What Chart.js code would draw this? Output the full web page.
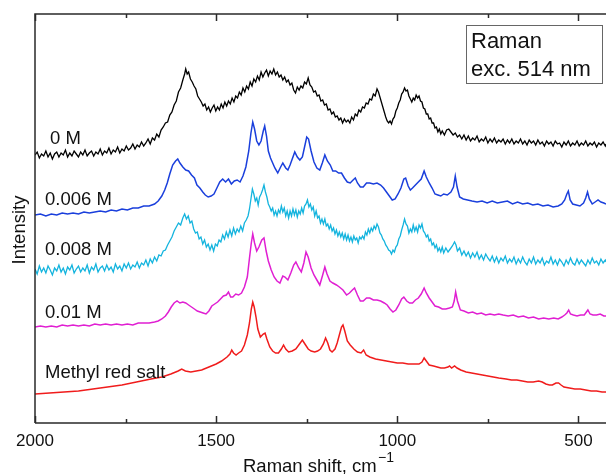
<!DOCTYPE html>
<html><head><meta charset="utf-8">
<script src="https://cdn.jsdelivr.net/npm/chart.js@4.4.1/dist/chart.umd.min.js"></script>
<style>html,body{margin:0;padding:0;background:#fff;overflow:hidden}canvas{display:block}</style>
</head><body>
<canvas id="c" width="606" height="474"></canvas>
<script>
// Raman shift (cm-1) tick values
const majorTicks = [2000, 1500, 1000, 500];
const minorTicks = [1750, 1250, 750];
const seriesNames = ['0 M', '0.006 M', '0.008 M', '0.01 M', 'Methyl red salt'];

// [Raman shift, intensity (a.u., offset-stacked)]
const spec0M = [[2000,268],[1994,271],[1988,265],[1982,269],[1976,267],[1970,272],[1964,266],[1958,270],[1952,264],[1946,269],[1940,271],[1934,266],[1928,270],[1922,268],[1916,273],[1910,266],[1904,270],[1898,267],[1892,272],[1886,269],[1880,266],[1874,271],[1868,268],[1862,273],[1856,267],[1850,270],[1844,272],[1838,267],[1832,271],[1826,269],[1820,274],[1814,268],[1808,272],[1802,270],[1796,275],[1790,269],[1784,273],[1778,271],[1772,276],[1766,270],[1760,274],[1754,272],[1748,277],[1742,273],[1736,275],[1730,279],[1724,274],[1718,278],[1712,276],[1706,281],[1700,277],[1694,280],[1688,284],[1682,279],[1676,285],[1670,283],[1664,289],[1658,286],[1652,293],[1646,296],[1640,300],[1634,301],[1628,308],[1622,311],[1616,318],[1610,322],[1604,331],[1598,335],[1592,343],[1587,349],[1584,354],[1580,349],[1576,351],[1571,344],[1566,341],[1561,337],[1556,334],[1551,327],[1546,324],[1541,321],[1536,317],[1531,319],[1526,313],[1521,316],[1516,311],[1511,315],[1506,318],[1501,312],[1496,316],[1491,313],[1486,319],[1481,315],[1476,321],[1471,317],[1466,322],[1461,319],[1456,325],[1451,321],[1446,327],[1441,325],[1436,331],[1431,328],[1426,335],[1421,331],[1416,337],[1411,334],[1406,341],[1401,337],[1396,344],[1391,341],[1386,347],[1381,343],[1376,351],[1371,346],[1366,350],[1361,353],[1356,347],[1351,352],[1346,349],[1341,354],[1336,348],[1331,351],[1326,346],[1321,348],[1316,343],[1311,346],[1306,341],[1301,343],[1296,338],[1291,340],[1286,333],[1281,330],[1276,336],[1271,333],[1266,337],[1261,335],[1256,341],[1251,339],[1246,345],[1241,338],[1236,336],[1231,331],[1226,332],[1221,327],[1216,328],[1211,322],[1206,323],[1201,318],[1196,319],[1191,313],[1186,314],[1181,309],[1176,311],[1171,306],[1166,307],[1161,303],[1156,305],[1151,300],[1146,304],[1141,301],[1136,303],[1131,300],[1126,306],[1121,303],[1116,309],[1111,307],[1106,313],[1101,311],[1096,316],[1091,315],[1086,320],[1081,319],[1076,324],[1071,323],[1066,329],[1061,327],[1056,334],[1052,331],[1048,326],[1044,321],[1040,316],[1036,311],[1032,306],[1028,302],[1024,300],[1020,302],[1016,299],[1012,304],[1008,306],[1004,312],[1000,315],[996,320],[992,323],[988,329],[984,331],[980,335],[976,332],[972,333],[968,327],[964,324],[960,321],[956,325],[952,323],[948,328],[944,325],[940,327],[936,322],[932,321],[928,315],[924,314],[920,309],[916,309],[912,304],[908,305],[904,300],[900,300],[896,295],[892,296],[888,291],[884,294],[880,289],[876,292],[870,288],[864,293],[858,294],[852,291],[846,288],[840,290],[834,286],[828,288],[822,284],[816,288],[810,283],[804,287],[798,282],[792,285],[786,283],[780,287],[774,281],[768,284],[762,282],[756,286],[750,280],[744,284],[738,281],[732,285],[726,280],[720,283],[714,281],[708,284],[702,279],[696,283],[690,280],[684,284],[678,279],[672,282],[666,280],[660,284],[654,279],[648,282],[642,278],[636,283],[630,280],[624,282],[618,278],[612,283],[606,279],[600,281],[594,277],[588,282],[582,279],[576,281],[570,277],[564,282],[558,279],[552,280],[546,276],[540,281],[534,278],[528,282],[522,277],[516,280],[510,278],[504,282],[498,277],[492,280],[486,278],[480,282],[474,277],[468,280],[462,278],[456,281],[450,276],[444,280],[438,278],[432,281],[426,277],[424,279]];

const spec006M = [[2000,208],[1985,209],[1970,207],[1955,209],[1940,208],[1925,210],[1910,209],[1895,210],[1880,209],[1865,211],[1850,210],[1835,211],[1820,212],[1805,211],[1790,213],[1775,212],[1760,214],[1745,213],[1730,215],[1715,215],[1700,217],[1685,217],[1670,219],[1660,222],[1650,227],[1642,233],[1635,240],[1628,249],[1620,258],[1612,262],[1606,264],[1600,260],[1592,256],[1584,253],[1576,252],[1568,248],[1560,245],[1553,238],[1545,235],[1537,231],[1530,228],[1522,226],[1514,227],[1506,229],[1498,235],[1490,241],[1482,244],[1474,241],[1466,244],[1458,239],[1450,242],[1442,243],[1434,241],[1426,247],[1418,256],[1410,272],[1404,290],[1399,301],[1394,294],[1388,282],[1382,278],[1376,282],[1370,292],[1366,297],[1361,287],[1356,272],[1350,265],[1344,260],[1338,255],[1330,250],[1322,256],[1316,260],[1308,255],[1302,253],[1296,258],[1290,264],[1283,271],[1276,266],[1269,263],[1262,266],[1256,276],[1250,286],[1245,284],[1238,272],[1230,261],[1222,255],[1214,253],[1207,260],[1200,268],[1193,262],[1185,258],[1178,252],[1170,252],[1162,250],[1154,250],[1146,245],[1138,241],[1130,240],[1122,243],[1116,245],[1110,240],[1102,236],[1094,236],[1085,240],[1076,240],[1066,239],[1056,240],[1046,238],[1038,235],[1030,231],[1022,227],[1014,223],[1006,224],[998,229],[990,235],[982,244],[977,245],[970,237],[964,233],[958,235],[950,238],[942,241],[934,244],[926,252],[920,246],[912,240],[904,235],[896,229],[888,228],[880,227],[872,229],[862,228],[852,231],[845,236],[840,247],[835,236],[828,226],[818,224],[806,223],[794,222],[780,221],[766,222],[752,220],[738,222],[724,220],[710,221],[696,222],[682,219],[668,221],[654,219],[640,220],[626,218],[612,219],[598,217],[584,218],[570,216],[556,217],[546,219],[538,223],[532,229],[528,232],[523,223],[516,219],[506,218],[496,217],[486,220],[480,225],[475,231],[470,224],[462,219],[454,221],[446,223],[438,221],[430,220],[424,219]];

const spec008M = [[2000,154],[1994,149],[1988,157],[1982,151],[1976,155],[1970,150],[1964,157],[1958,153],[1952,148],[1946,155],[1940,152],[1934,158],[1928,151],[1922,155],[1916,149],[1910,156],[1904,153],[1898,158],[1892,150],[1886,154],[1880,157],[1874,151],[1868,155],[1862,152],[1856,158],[1850,150],[1844,156],[1838,153],[1832,159],[1826,151],[1820,155],[1814,157],[1808,152],[1802,158],[1796,153],[1790,156],[1784,151],[1778,159],[1772,154],[1766,157],[1760,152],[1754,159],[1748,155],[1742,160],[1736,154],[1730,158],[1724,156],[1718,161],[1712,155],[1706,160],[1700,158],[1694,163],[1688,157],[1682,164],[1676,160],[1670,166],[1664,162],[1658,168],[1652,167],[1646,172],[1640,173],[1634,178],[1628,182],[1622,186],[1616,192],[1610,196],[1604,200],[1598,198],[1592,205],[1587,209],[1582,204],[1577,207],[1572,200],[1567,202],[1562,194],[1557,190],[1552,191],[1547,184],[1542,186],[1537,179],[1532,183],[1527,176],[1522,179],[1517,173],[1512,178],[1507,172],[1502,179],[1497,177],[1492,183],[1487,181],[1482,188],[1477,184],[1472,191],[1467,186],[1462,193],[1457,187],[1452,195],[1447,189],[1442,194],[1437,191],[1432,197],[1427,192],[1422,200],[1417,203],[1412,207],[1408,214],[1404,224],[1400,234],[1396,229],[1392,222],[1388,225],[1384,218],[1380,226],[1376,229],[1372,233],[1368,238],[1364,231],[1360,226],[1356,219],[1352,216],[1348,212],[1344,215],[1340,208],[1336,212],[1332,207],[1328,213],[1324,210],[1320,217],[1316,211],[1312,215],[1308,207],[1304,212],[1300,205],[1296,212],[1292,207],[1288,214],[1284,208],[1280,213],[1276,206],[1272,212],[1268,209],[1264,215],[1260,210],[1256,217],[1252,219],[1248,223],[1244,216],[1240,219],[1236,213],[1232,216],[1228,207],[1224,212],[1220,205],[1216,207],[1212,200],[1208,204],[1204,199],[1200,204],[1196,197],[1192,199],[1188,194],[1184,198],[1180,192],[1176,195],[1172,189],[1168,193],[1164,187],[1160,191],[1156,186],[1152,190],[1148,184],[1144,189],[1140,183],[1136,188],[1132,182],[1128,186],[1124,181],[1120,187],[1116,183],[1112,185],[1108,180],[1104,186],[1100,184],[1096,187],[1092,184],[1088,191],[1084,188],[1080,194],[1076,190],[1072,195],[1068,192],[1064,197],[1060,194],[1056,199],[1052,196],[1048,190],[1044,188],[1040,184],[1036,182],[1032,178],[1028,176],[1024,173],[1020,172],[1016,169],[1012,173],[1008,171],[1004,176],[1000,178],[996,184],[992,187],[988,193],[984,198],[980,204],[976,199],[972,197],[968,190],[964,194],[960,191],[956,198],[952,192],[948,196],[944,191],[940,198],[936,195],[932,199],[928,192],[924,190],[920,186],[916,188],[912,182],[908,184],[904,178],[900,180],[896,175],[892,178],[888,172],[884,175],[880,171],[876,176],[872,170],[866,175],[860,171],[854,174],[848,177],[842,181],[838,178],[834,172],[828,175],[822,168],[816,172],[810,167],[804,171],[798,165],[792,170],[786,166],[780,171],[774,164],[768,168],[762,163],[756,169],[750,165],[744,162],[738,167],[732,161],[726,166],[720,160],[714,165],[708,162],[702,167],[696,160],[690,164],[684,161],[678,166],[672,159],[666,164],[660,160],[654,166],[648,161],[642,158],[636,164],[630,160],[624,166],[618,159],[612,163],[606,160],[600,165],[594,158],[588,162],[582,160],[576,166],[570,159],[564,163],[558,158],[552,164],[546,161],[540,157],[534,163],[528,159],[522,165],[516,160],[510,158],[504,164],[498,159],[492,163],[486,160],[480,157],[474,163],[468,159],[462,165],[456,160],[450,162],[444,158],[438,164],[432,160],[426,163],[424,161]];

const spec01M = [[2000,96],[1985,97],[1970,96],[1955,97],[1940,96],[1925,98],[1910,97],[1895,98],[1880,97],[1865,98],[1850,97],[1835,99],[1820,98],[1805,99],[1790,98],[1775,99],[1760,98],[1745,99],[1730,98],[1715,100],[1700,100],[1685,100],[1670,101],[1660,102],[1650,104],[1640,107],[1632,111],[1624,116],[1616,120],[1608,122],[1600,120],[1592,121],[1584,120],[1576,118],[1568,116],[1560,114],[1552,112],[1544,111],[1536,110],[1528,109],[1520,112],[1512,117],[1504,119],[1496,121],[1488,124],[1480,127],[1472,128],[1466,131],[1460,126],[1454,126],[1446,129],[1438,128],[1430,130],[1422,136],[1414,146],[1408,165],[1403,180],[1399,189],[1394,180],[1388,172],[1382,176],[1374,183],[1368,185],[1362,172],[1356,162],[1348,153],[1340,146],[1332,142],[1324,140],[1316,147],[1310,146],[1302,143],[1294,150],[1286,158],[1280,161],[1272,155],[1265,151],[1258,160],[1252,171],[1246,166],[1238,155],[1230,148],[1222,143],[1214,138],[1206,148],[1200,156],[1194,149],[1186,142],[1178,140],[1168,138],[1160,136],[1150,133],[1140,128],[1132,130],[1124,133],[1118,135],[1110,128],[1102,122],[1094,122],[1085,125],[1076,125],[1066,123],[1056,123],[1046,122],[1036,120],[1028,118],[1020,114],[1012,111],[1004,113],[996,118],[988,124],[982,126],[974,122],[966,120],[958,120],[950,123],[942,125],[934,129],[926,135],[920,130],[912,125],[904,121],[896,117],[886,116],[876,114],[866,114],[856,115],[848,116],[843,122],[839,131],[834,122],[826,113],[816,112],[804,110],[792,111],[780,109],[768,110],[756,108],[744,109],[732,108],[720,109],[708,108],[694,107],[680,108],[666,106],[652,107],[638,105],[624,106],[610,104],[596,105],[582,104],[568,105],[556,104],[546,106],[538,108],[532,110],[527,113],[522,109],[514,108],[504,107],[494,108],[484,108],[478,111],[474,113],[468,109],[460,108],[450,108],[440,109],[430,107],[424,107]];

const specMethylRed = [[2000,29],[1960,30],[1920,31],[1880,32],[1840,34],[1800,36],[1760,38],[1720,41],[1680,44],[1650,46],[1625,49],[1605,52],[1595,54],[1585,52],[1570,51],[1555,52],[1540,53],[1520,56],[1500,59],[1485,62],[1470,66],[1462,69],[1457,73],[1452,70],[1445,68],[1438,70],[1430,72],[1422,78],[1414,88],[1408,100],[1403,114],[1399,121],[1395,116],[1390,106],[1385,94],[1378,86],[1370,89],[1365,90],[1360,84],[1352,76],[1344,72],[1336,70],[1328,70],[1320,74],[1314,78],[1308,74],[1300,71],[1290,72],[1280,74],[1270,79],[1262,83],[1255,79],[1246,74],[1238,72],[1228,71],[1220,72],[1212,74],[1204,79],[1198,85],[1192,80],[1186,73],[1180,71],[1172,74],[1166,80],[1160,88],[1154,96],[1150,98],[1145,92],[1138,82],[1130,78],[1120,74],[1110,71],[1100,70],[1093,73],[1086,68],[1076,66],[1060,64],[1045,63],[1030,62],[1015,61],[1000,60],[985,60],[970,59],[955,59],[940,59],[932,61],[926,65],[920,62],[912,58],[900,57],[890,56],[880,55],[870,55],[860,56],[856,57],[850,55],[842,57],[835,55],[825,53],[810,51],[795,50],[780,49],[765,48],[750,47],[735,46],[720,45],[700,44],[685,43],[670,43],[655,42],[640,41],[625,41],[610,42],[600,41],[590,39],[580,38],[572,38],[562,40],[555,40],[548,38],[540,36],[525,35],[510,34],[495,34],[480,33],[465,32],[450,32],[435,31],[424,31]];

const FONT = '"Liberation Sans", Arial, Helvetica, sans-serif';
const colors = ['#000000', '#1a3fdc', '#14b4de', '#e01fd2', '#f01c1c'];
const widths = [1.3, 1.5, 1.3, 1.5, 1.5];
const allSpectra = [spec0M, spec006M, spec008M, spec01M, specMethylRed];

const decor = {
  id: 'decor',
  afterDraw(chart) {
    const ctx = chart.ctx, a = chart.chartArea, xs = chart.scales.x;
    ctx.save();
    ctx.strokeStyle = '#2a2a2a';
    ctx.lineWidth = 1.5;
    ctx.beginPath();
    ctx.moveTo(a.left, a.bottom); ctx.lineTo(a.left, a.top); ctx.lineTo(a.right + 2, a.top);
    ctx.moveTo(a.left, a.bottom); ctx.lineTo(a.right + 2, a.bottom);
    ctx.stroke();
    const drawTick = (v, len) => {
      const px = Math.round(xs.getPixelForValue(v)) + 0.5;
      ctx.beginPath();
      ctx.moveTo(px, a.bottom); ctx.lineTo(px, a.bottom - len);
      ctx.moveTo(px, a.top); ctx.lineTo(px, a.top + len);
      ctx.stroke();
    };
    majorTicks.forEach(v => drawTick(v, 7));
    minorTicks.forEach(v => drawTick(v, 4));
    ctx.fillStyle = '#111';
    ctx.font = '18.5px ' + FONT;
    ctx.textAlign = 'left';
    ctx.textBaseline = 'alphabetic';
    const lab = [[50,144],[45,205],[45,255],[45,318],[45,378]];
    seriesNames.forEach((n, i) => ctx.fillText(n, lab[i][0], lab[i][1]));
    ctx.save();
    ctx.translate(20, 230);
    ctx.rotate(-Math.PI / 2);
    ctx.textAlign = 'center';
    ctx.textBaseline = 'middle';
    ctx.fillText('Intensity', 0, 0);
    ctx.restore();
    ctx.textAlign = 'left';
    ctx.fillText('Raman shift, cm', 243, 472);
    ctx.font = '14px ' + FONT;
    ctx.fillText('\u22121', 378, 462);
    ctx.fillStyle = '#fff';
    ctx.fillRect(466, 25, 136, 58);
    ctx.strokeStyle = '#666';
    ctx.lineWidth = 1;
    ctx.strokeRect(466.5, 25.5, 136, 58);
    ctx.fillStyle = '#111';
    ctx.font = '22px ' + FONT;
    ctx.fillText('Raman', 471, 48);
    ctx.fillText('exc. 514 nm', 471, 76);
    ctx.restore();
  }
};

new Chart(document.getElementById('c'), {
  type: 'line',
  data: {
    datasets: allSpectra.map((s, i) => ({
      label: seriesNames[i],
      data: s.map(p => ({x: p[0], y: p[1]})),
      borderColor: colors[i],
      borderWidth: widths[i],
      pointRadius: 0,
      tension: 0,
      fill: false
    }))
  },
  options: {
    responsive: false,
    devicePixelRatio: 1,
    animation: false,
    layout: {padding: {left: 35, top: 14, right: 0, bottom: 0}},
    plugins: {legend: {display: false}, tooltip: {enabled: false}},
    scales: {
      x: {
        type: 'linear', reverse: true, min: 424, max: 2000,
        grid: {display: false, drawTicks: false},
        border: {display: false},
        ticks: {font: {family: FONT, size: 17}, color: '#111', padding: 8, maxRotation: 0,
                callback: v => String(v)},
        afterBuildTicks: s => { s.ticks = majorTicks.map(v => ({value: v})); },
        afterFit: s => { s.height = 51; }
      },
      y: {
        type: 'linear', min: 0, max: 409, display: false
      }
    }
  },
  plugins: [decor]
});
</script></body></html>
